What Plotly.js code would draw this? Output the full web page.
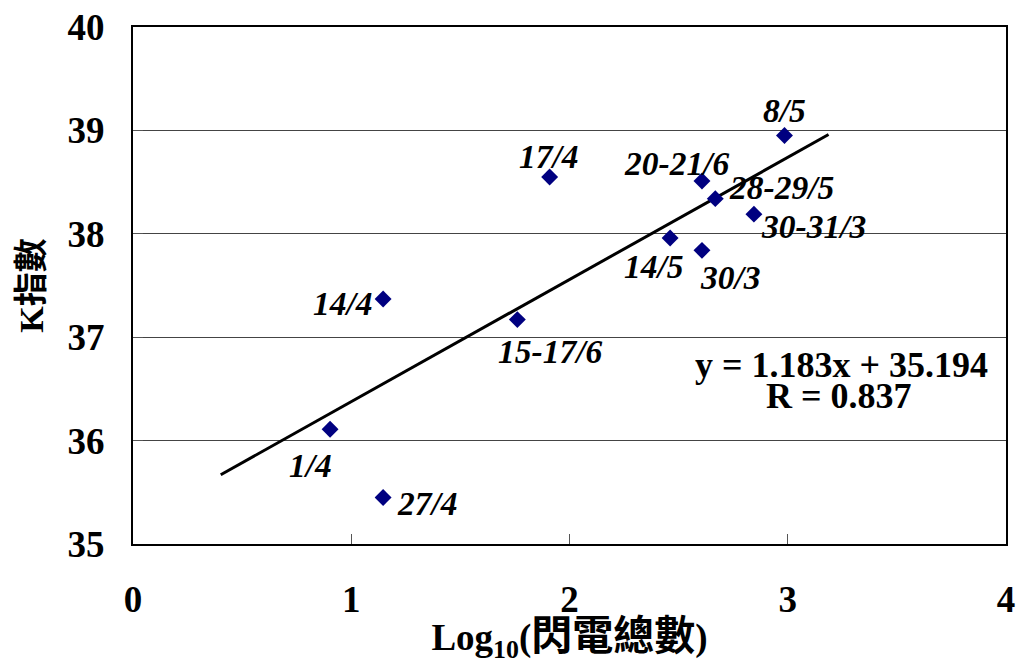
<!DOCTYPE html>
<html>
<head>
<meta charset="utf-8">
<script src="https://cdn.plot.ly/plotly-3.0.1.min.js"></script>
<style>html,body{margin:0;padding:0;background:#fff;}#chart{width:1018px;height:664px;}</style>
</head>
<body>
<div id="chart"></div>
<script>
// Event labels (dates)
var eventLabels = ["8/5", "17/4", "20-21/6", "28-29/5", "30-31/3", "14/5", "30/3", "14/4", "15-17/6", "1/4", "27/4"];
// Log10 of total lightning count
var logLightning = [2.985, 1.909, 2.607, 2.668, 2.845, 2.461, 2.607, 1.146, 1.761, 0.903, 1.146];
// K index
var kIndex = [38.95, 38.55, 38.51, 38.34, 38.19, 37.96, 37.84, 37.37, 37.17, 36.11, 35.45];
// Linear trend line end points (y = 1.183x + 35.194)
var trendX = [0.402, 3.187];
var trendY = [35.67, 38.96];
var equationText = "y = 1.183x + 35.194";
var rText = "R = 0.837";
var xTickVals = [0, 1, 2, 3, 4];
var yTickVals = [35, 36, 37, 38, 39, 40];

// label placement (style only)
var labelStyle = {
  "8/5":     {xs: 0,   ys: 25,  xa: "center"},
  "17/4":    {xs: -1,  ys: 20,  xa: "center"},
  "20-21/6": {xs: -25, ys: 18,  xa: "center"},
  "28-29/5": {xs: 12,  ys: 11,  xa: "left"},
  "30-31/3": {xs: 5,   ys: -12, xa: "left"},
  "14/5":    {xs: -16, ys: -29, xa: "center"},
  "30/3":    {xs: -4,  ys: -27, xa: "left"},
  "14/4":    {xs: -8,  ys: -5,  xa: "right"},
  "15-17/6": {xs: 33,  ys: -32, xa: "center"},
  "1/4":     {xs: -20, ys: -36, xa: "center"},
  "27/4":    {xs: 12,  ys: -6,  xa: "left"}
};

var serif = "Liberation Serif, Times New Roman, Noto Sans CJK TC, serif";

var annotations = eventLabels.map(function (lab, i) {
  var s = labelStyle[lab];
  return {
    x: logLightning[i], y: kIndex[i], xref: "x", yref: "y",
    text: lab, showarrow: false,
    xanchor: s.xa, yanchor: "middle",
    xshift: s.xs, yshift: s.ys,
    font: {family: serif, size: 33.5, color: "#000", weight: "bold", style: "italic"}
  };
});
annotations.push({
  xref: "paper", yref: "paper", x: (841 - 133) / 873, y: (544.5 - 365) / 517.5,
  text: equationText, showarrow: false, xanchor: "center", yanchor: "middle",
  font: {family: serif, size: 36, color: "#000", weight: "bold"}
});
annotations.push({
  xref: "paper", yref: "paper", x: (839 - 133) / 873, y: (544.5 - 396) / 517.5,
  text: rText, showarrow: false, xanchor: "center", yanchor: "middle",
  font: {family: serif, size: 36, color: "#000", weight: "bold"}
});

var data = [
  {
    x: trendX, y: trendY, mode: "lines", type: "scatter",
    line: {color: "#000", width: 3}, hoverinfo: "skip", showlegend: false
  },
  {
    x: logLightning, y: kIndex, mode: "markers", type: "scatter",
    marker: {symbol: "diamond", color: "#000080", size: 13},
    text: eventLabels, showlegend: false
  }
];

var layout = {
  width: 1018, height: 664,
  margin: {l: 133, r: 12, t: 27, b: 119.5, pad: 0},
  paper_bgcolor: "#fff", plot_bgcolor: "#fff",
  showlegend: false,
  font: {family: serif, color: "#000"},
  xaxis: {
    range: [0, 4], tickvals: xTickVals, ticktext: xTickVals.map(String),
    showgrid: false, zeroline: false,
    showline: true, linecolor: "#000", linewidth: 2, mirror: true,
    ticks: "inside", ticklen: 10, tickcolor: "#555", tickwidth: 1,
    ticklabelstandoff: 22,
    tickfont: {family: serif, size: 37, color: "#000", weight: "bold"},
    title: {text: "Log<sub>10</sub>(<span style=\"font-size:41px\">閃電總數</span>)", standoff: 0,
      font: {family: "Liberation Serif, Noto Sans CJK TC, serif", size: 37, color: "#000", weight: "bold"}}
  },
  yaxis: {
    range: [35, 40], tickvals: yTickVals, ticktext: yTickVals.map(String),
    showgrid: true, gridcolor: "#444", gridwidth: 1, zeroline: false,
    showline: true, linecolor: "#000", linewidth: 2, mirror: true,
    ticks: "inside", ticklen: 10, tickcolor: "#555", tickwidth: 1,
    ticklabelstandoff: 19,
    tickfont: {family: serif, size: 37, color: "#000", weight: "bold"},
    title: {text: "K指數", standoff: 14,
      font: {family: "Liberation Serif, Noto Sans CJK TC, serif", size: 34, color: "#000", weight: "bold"}}
  },
  annotations: annotations
};

Plotly.newPlot("chart", data, layout, {staticPlot: true, displayModeBar: false});
</script>
</body>
</html>
